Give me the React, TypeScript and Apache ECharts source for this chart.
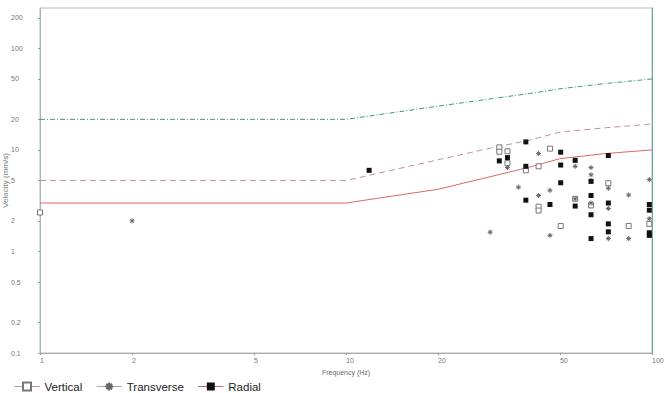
import React, { useEffect, useRef } from 'react';
import * as echarts from 'echarts';

const xTicks = [1, 2, 5, 10, 20, 50, 100];
const yTicks = [0.1, 0.2, 0.5, 1, 2, 5, 10, 20, 50, 100, 200];

// Limit curves (frequency Hz, velocity mm/s)
const limitSolid: [number, number][] = [[1, 3], [10, 3], [20, 4.1], [30, 5.5], [40, 6.8], [50, 8.2], [70, 9.2], [100, 10]];
const limitDashed: [number, number][] = [[1, 5], [10, 5], [20, 8], [30, 10.5], [40, 12.5], [50, 15], [70, 16.5], [100, 18]];
const limitDashDot: [number, number][] = [[1, 20], [10, 20], [20, 27], [30, 32], [40, 36], [50, 40], [70, 45], [100, 50]];

const vertical: [number, number][] = [
  [1, 2.42], [31.7, 10.6], [31.7, 9.6], [33.7, 9.7], [33.7, 7.4], [38.7, 6.3], [42.6, 6.9],
  [46.4, 10.3], [42.6, 2.76], [42.6, 2.53], [56.1, 3.3], [63.2, 2.84], [72, 4.7], [50.3, 1.78],
  [83.9, 1.78], [98, 1.87],
];
const transverse: [number, number][] = [
  [2, 2], [29.6, 1.55], [42.6, 9.2], [33.7, 6.7], [56.1, 6.9], [63.2, 6.7], [63.2, 5.7], [63.2, 5.0],
  [36.6, 4.3], [46.4, 4.0], [72, 4.2], [42.6, 3.56], [56.1, 3.3], [83.9, 3.6], [63.2, 3.0], [72, 2.65],
  [98, 5.1], [98, 2.1], [46.4, 1.44], [72, 1.34], [83.9, 1.34],
];
const radial: [number, number][] = [
  [11.9, 6.3], [38.7, 12.0], [31.7, 7.8], [33.7, 8.4], [50.3, 9.5], [38.7, 6.9], [50.3, 7.1], [56.1, 7.9],
  [72, 8.8], [50.3, 4.75], [38.7, 3.2], [46.4, 2.9], [56.1, 2.8], [63.2, 3.56], [63.2, 4.9], [72, 3.0],
  [63.2, 2.3], [72, 1.87], [72, 1.56], [63.2, 1.34], [98, 2.9], [98, 2.55], [98, 1.53], [98, 1.44],
];

const asterisk = 'path://M0,5L10,5M5,0L5,10M1.5,1.5L8.5,8.5M8.5,1.5L1.5,8.5';
const font = 'Liberation Sans, Arial, sans-serif';

export default function App() {
  const ref = useRef<HTMLDivElement>(null);
  useEffect(() => {
    if (!ref.current) return;
    const chart = echarts.init(ref.current, undefined, { renderer: 'svg' });
    const hiddenLine = { opacity: 0, width: 0 };
    chart.setOption({
      animation: false,
      backgroundColor: '#ffffff',
      grid: {
        left: 40, right: 16, top: 8, bottom: 40, show: true, borderColor: '#b8b8b8', borderWidth: 1,
        containLabel: false, outerBoundsMode: 'none',
      },
      xAxis: {
        type: 'log', min: 1, max: 100, logBase: 10,
        name: 'Frequency (Hz)', nameLocation: 'middle', nameGap: 16, nameMoveOverlap: false,
        nameTextStyle: { fontSize: 7, color: '#666', fontFamily: font },
        axisLine: { lineStyle: { color: '#b0a8a8' } },
        axisTick: { show: true, length: 2, customValues: xTicks, lineStyle: { color: '#999' } },
        axisLabel: { customValues: xTicks, fontSize: 7, color: '#777', align: 'left', margin: 4, fontFamily: font, showMinLabel: true, showMaxLabel: true },
        splitLine: { show: false },
        minorTick: { show: false },
      },
      yAxis: [
        {
          type: 'log', min: 0.1, max: 250, logBase: 10,
          name: 'Velocity (mm/s)', nameLocation: 'middle', nameGap: 31, nameMoveOverlap: false,
          nameTextStyle: { fontSize: 8, color: '#777', fontFamily: font },
          axisLine: { show: true, lineStyle: { color: '#9fb8b4' } },
          axisTick: { show: true, length: 2, customValues: yTicks, lineStyle: { color: '#999' } },
          axisLabel: { customValues: yTicks, fontSize: 7, color: '#777', align: 'left', margin: 29, fontFamily: font, showMinLabel: true },
          splitLine: { show: false },
        },
        {
          type: 'log', min: 0.1, max: 250, logBase: 10, position: 'right',
          axisLine: { show: true, lineStyle: { color: '#5fb0a0' } },
          axisTick: { show: false }, axisLabel: { show: false }, splitLine: { show: false },
        },
      ],
      legend: {
        left: 9, top: 375, itemWidth: 25, itemHeight: 10, itemGap: 14,
        textStyle: { fontSize: 11.5, color: '#222', fontFamily: font },
        data: [
          { name: 'Vertical', lineStyle: { color: '#b89a9a', width: 1, opacity: 1 } },
          { name: 'Transverse', lineStyle: { color: '#9ab0b0', width: 1, opacity: 1 } },
          { name: 'Radial', lineStyle: { color: '#c06a6a', width: 1, opacity: 1 } },
        ],
      },
      series: [
        { type: 'line', data: limitDashDot, symbol: 'none', lineStyle: { color: '#3a9a86', width: 1, type: [5, 2, 1, 2] }, silent: true },
        { type: 'line', data: limitDashed, symbol: 'none', lineStyle: { color: '#c09595', width: 1, type: [6, 4] }, silent: true },
        { type: 'line', data: limitSolid, symbol: 'none', lineStyle: { color: '#e06666', width: 1 }, silent: true },
        {
          name: 'Vertical', type: 'line', data: vertical, symbol: 'rect', symbolSize: 5, showAllSymbol: true,
          lineStyle: hiddenLine, itemStyle: { color: '#ffffff', borderColor: '#777', borderWidth: 1 },
        },
        {
          name: 'Transverse', type: 'line', data: transverse, symbol: asterisk, symbolSize: 5, showAllSymbol: true,
          lineStyle: hiddenLine, itemStyle: { color: 'none', borderColor: '#666', borderWidth: 1 },
        },
        {
          name: 'Radial', type: 'line', data: radial, symbol: 'rect', symbolSize: 5, showAllSymbol: true,
          lineStyle: hiddenLine, itemStyle: { color: '#111', borderColor: '#111', borderWidth: 0 },
        },
      ],
    });
    return () => chart.dispose();
  }, []);
  return <div ref={ref} style={{ position: 'fixed', left: 0, top: 0, width: 668, height: 393 }} />;
}
